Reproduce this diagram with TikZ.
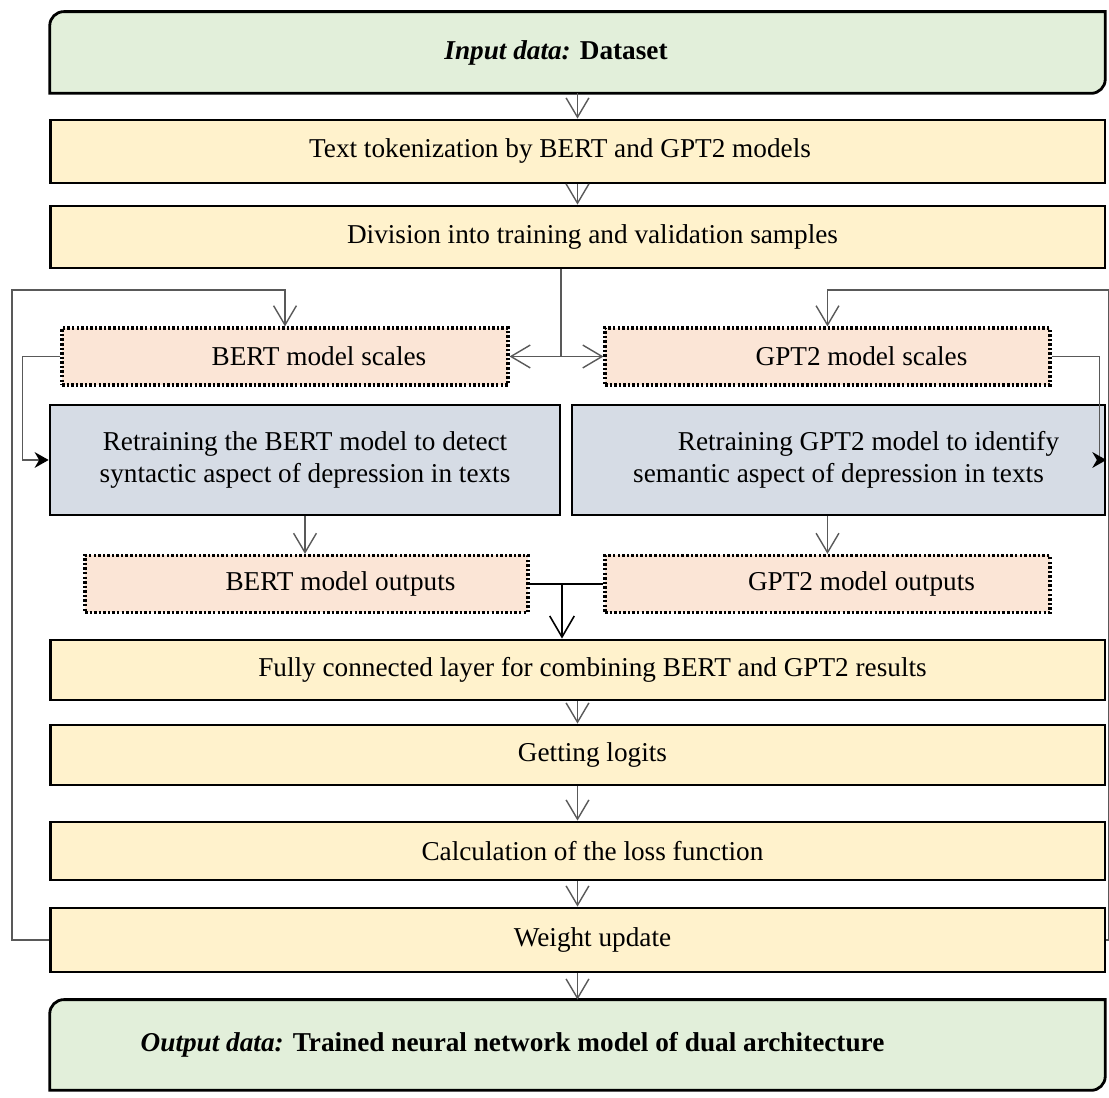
\documentclass[tikz,border=0pt]{standalone}
\usepackage{fontspec}
\setmainfont{Liberation Serif}
\usetikzlibrary{arrows.meta,positioning,backgrounds}
\definecolor{datafill}{HTML}{E2EFDA}
\definecolor{stepfill}{HTML}{FFF2CC}
\definecolor{scalefill}{HTML}{FBE5D6}
\definecolor{trainfill}{HTML}{D6DCE5}
\definecolor{linkgray}{HTML}{595959}
\tikzset{
  flow/.style={draw, line width=1.6pt, minimum width=21.1cm, font=\fontsize{15.5}{18.5}\selectfont},
  stepbox/.style={flow, fill=stepfill, minimum height=1.22cm},
  databox/.style={minimum width=21.1cm, font=\fontsize{15.5}{18.5}\selectfont\bfseries},
  scalebox/.style={draw, line width=1.8pt, dash pattern=on 1.4pt off 1.2pt, fill=scalefill,
    minimum width=8.9cm, minimum height=1.14cm, font=\fontsize{15.5}{18.5}\selectfont},
  trainbox/.style={flow, fill=trainfill, minimum height=2.2cm, align=center},
  link/.style={draw=linkgray, line width=0.8pt, -{Straight Barb[length=11pt,width=13pt]}},
  plain/.style={draw=linkgray, line width=0.8pt},
  sidelink/.style={draw=linkgray, line width=0.8pt, -{Stealth[length=8pt,width=9pt,color=black]}},
  mainlink/.style={draw=black, line width=0.9pt, -{Straight Barb[length=12pt,width=14pt]}}
}
\newcommand\diagframe[1]{%
  \draw[line width=1.6pt, fill=datafill] (#1.south west) -- ([yshift=-8pt]#1.north west)
    arc[start angle=180,end angle=90,radius=8pt] -- (#1.north east)
    -- ([yshift=8pt]#1.south east) arc[start angle=0,end angle=-90,radius=8pt] -- cycle;}
\begin{document}
\begin{tikzpicture}[x=0.02cm,y=0.02cm]
\useasboundingbox (0,0) rectangle (1109,1098);

% main column
\node[databox, minimum height=1.62cm] (in) at (577.5,1045.5)
  {\textit{Input data:} Dataset\hspace*{0.86cm}};
\node[stepbox, minimum height=1.26cm] (tok) at (577.5,946.5) {Text tokenization by BERT and GPT2 models\hspace*{0.7cm}};
\node[stepbox, minimum height=1.24cm] (div) at (577.5,861) {\hspace*{0.6cm}Division into training and validation samples};

% two branches
\node[scalebox, minimum width=8.92cm] (bsc) at (285,741.5) {\hspace*{1.36cm}BERT model scales};
\node[scalebox] (gsc) at (827.5,741.5) {\hspace*{1.36cm}GPT2 model scales};
\node[trainbox, minimum width=10.2cm] (bret) at (305,638)
  {Retraining the BERT model to detect\\syntactic aspect of depression in texts};
\node[trainbox, minimum width=10.66cm] (gret) at (838.5,638)
  {\hspace*{1.2cm}Retraining GPT2 model to identify\\semantic aspect of depression in texts};
\node[scalebox, minimum width=8.86cm] (bout) at (306.5,514) {\hspace*{1.36cm}BERT model outputs};
\node[scalebox] (gout) at (827.5,514) {\hspace*{1.36cm}GPT2 model outputs};

\node[stepbox, minimum height=1.2cm] (fc) at (577.5,428) {\hspace*{0.6cm}Fully connected layer for combining BERT and GPT2 results};
\node[stepbox, minimum height=1.2cm] (logit) at (577.5,343) {\hspace*{0.6cm}Getting logits};
\node[stepbox, minimum height=1.16cm] (loss) at (577.5,247) {\hspace*{0.6cm}Calculation of the loss function};
\node[stepbox, minimum height=1.28cm] (upd) at (577.5,158) {\hspace*{0.6cm}Weight update};
\node[databox, minimum height=1.8cm] (out) at (577.5,53)
  {\textit{Output data:} Trained neural network model of dual architecture\hspace*{2.6cm}};

\begin{pgfonlayer}{background}
  \diagframe{in}
  \diagframe{out}
\end{pgfonlayer}

\coordinate (split) at (561,741.5);
\coordinate (join) at (562,514);
\coordinate (loopL) at (12,808);
\coordinate (loopR) at (1108.5,808);

% connectors
\draw[link] (in) -- (tok);
\draw[link] (tok) -- (div);
\draw[plain] (div.south -| split) -- (split);
\draw[link] (split) -- (bsc.east);
\draw[link] (split) -- (gsc.west);
\draw[sidelink] (bsc.west) -- ++(-38,0) |- (bret.west);
\draw[sidelink] (gsc.east) -- ++(48,0) |- (gret.east);
\draw[link] (bret.south) -- (bret.south |- bout.north);
\draw[link] (gout.north |- gret.south) -- (gout.north);
\draw[draw=black, line width=0.9pt] (bout.east) -- (gout.west);
\draw[mainlink] (join) -- (join |- fc.north);
\draw[link] (fc) -- (logit);
\draw[link] (logit) -- (loss);
\draw[link] (loss) -- (upd);
\draw[link] (upd) -- (out);

% feedback
\draw[link] (upd.west) -| (loopL) -| (bsc.north);
\draw[link] (upd.east) -| (loopR) -| (gsc.north);
\end{tikzpicture}
\end{document}
